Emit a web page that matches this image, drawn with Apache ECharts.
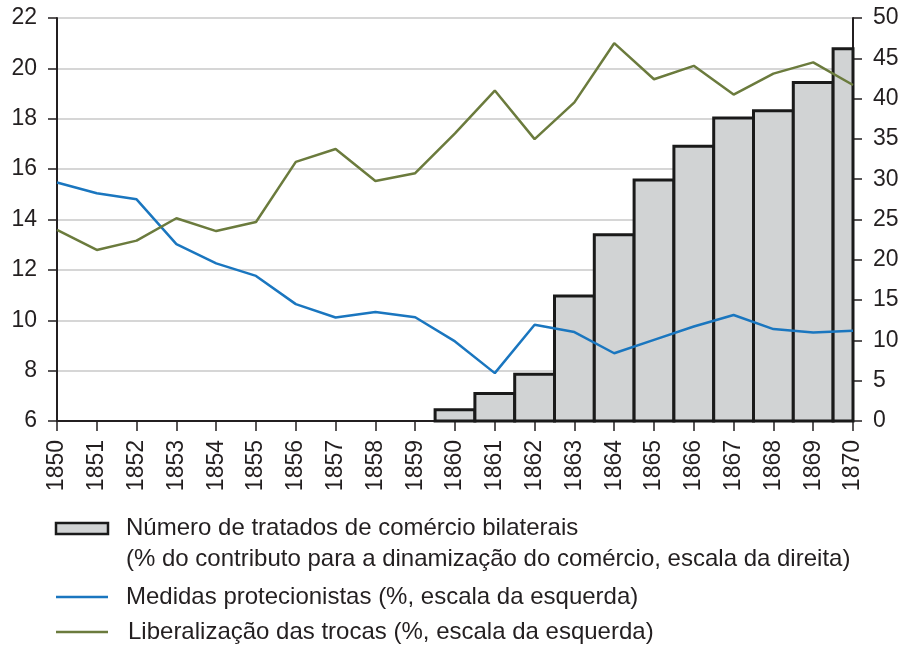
<!DOCTYPE html>
<html>
<head>
<meta charset="utf-8">
<script src="https://cdn.jsdelivr.net/npm/echarts@6/dist/echarts.min.js"></script>
<style>html,body{margin:0;padding:0;background:#fff;}#c{width:904px;height:648px;}</style>
</head>
<body>
<div id="c"></div>
<script>
const years = ['1850','1851','1852','1853','1854','1855','1856','1857','1858','1859','1860','1861','1862','1863','1864','1865','1866','1867','1868','1869','1870'];
const tratados = [null,null,null,null,null,null,null,null,null,null,1.4,3.4,5.8,15.5,23.1,29.9,34.1,37.6,38.5,42.0,46.2];
const protecionistas = [15.47,15.04,14.8,13.02,12.26,11.76,10.64,10.11,10.33,10.12,9.16,7.9,9.82,9.53,8.69,9.22,9.75,10.21,9.65,9.51,9.58];
const liberalizacao = [13.59,12.79,13.16,14.05,13.54,13.9,16.29,16.8,15.53,15.84,17.42,19.12,17.19,18.65,21.0,19.57,20.1,18.96,19.79,20.24,19.34];
const leftTicks = {min: 6, max: 22, interval: 2};
const rightTicks = {min: 0, max: 50, interval: 5};
const legendLabels = [
  'Número de tratados de comércio bilaterais',
  '(% do contributo para a dinamização do comércio, escala da direita)',
  'Medidas protecionistas (%, escala da esquerda)',
  'Liberalização das trocas (%, escala da esquerda)'
];

const FONT = '"Liberation Sans", Arial, sans-serif';
const TXT = '#231f20';
const BLUE = '#1a76bf';
const GREEN = '#6b7b3d';
const BARFILL = '#d1d3d4';
const BAREDGE = '#1a1a1a';

const barData = [];
tratados.forEach((v, i) => { if (v !== null) barData.push([years[i], v]); });

const chart = echarts.init(document.getElementById('c'), null, {renderer: 'canvas'});
const axisCommon = {
  axisLine: {show: true, lineStyle: {color: TXT, width: 2}},
  axisTick: {show: true, inside: false, length: 9, lineStyle: {color: TXT, width: 1.5}},
  axisLabel: {color: TXT, fontSize: 23, fontFamily: FONT, margin: 20}
};
chart.setOption({
  animation: false,
  backgroundColor: '#fff',
  textStyle: {fontFamily: FONT},
  grid: {left: 57, right: 51, top: 18, bottom: 227},
  xAxis: {
    type: 'category', data: years, boundaryGap: false,
    axisLine: axisCommon.axisLine,
    axisTick: {show: true, length: 10, lineStyle: {color: TXT, width: 1.5}, interval: 0},
    axisLabel: {color: TXT, fontSize: 23, fontFamily: FONT, rotate: 90, margin: 19, interval: 0},
    splitLine: {show: false}
  },
  yAxis: [
    Object.assign({
      type: 'value', position: 'left', min: leftTicks.min, max: leftTicks.max, interval: leftTicks.interval,
      splitLine: {show: true, lineStyle: {color: '#c8c8c8', width: 1.5}}
    }, axisCommon),
    Object.assign({
      type: 'value', position: 'right', min: rightTicks.min, max: rightTicks.max, interval: rightTicks.interval,
      splitLine: {show: false}
    }, axisCommon)
  ],
  series: [
    {
      name: legendLabels[0], type: 'custom', yAxisIndex: 1, data: barData,
      encode: {x: 0, y: 1}, z: 2,
      renderItem: function (params, api) {
        const top = api.coord([api.value(0), api.value(1)]);
        const base = api.coord([api.value(0), 0]);
        const w = api.size([1, 0])[0];
        const cs = params.coordSys;
        let x0 = top[0] - w / 2, x1 = top[0] + w / 2;
        x0 = Math.max(x0, cs.x);
        x1 = Math.min(x1, cs.x + cs.width);
        return {
          type: 'rect',
          shape: {x: x0, y: top[1], width: x1 - x0, height: base[1] - top[1]},
          style: {fill: BARFILL, stroke: BAREDGE, lineWidth: 3}
        };
      }
    },
    {
      name: legendLabels[2], type: 'line', yAxisIndex: 0, data: protecionistas, symbol: 'none',
      lineStyle: {color: BLUE, width: 2.5}, z: 3
    },
    {
      name: legendLabels[3], type: 'line', yAxisIndex: 0, data: liberalizacao, symbol: 'none',
      lineStyle: {color: GREEN, width: 2.5}, z: 3
    }
  ],
  graphic: [
    {type: 'rect', shape: {x: 56, y: 523, width: 52, height: 11}, style: {fill: BARFILL, stroke: BAREDGE, lineWidth: 2.5}},
    {type: 'text', x: 126, y: 528, style: {text: legendLabels[0], font: '24px ' + FONT, fill: TXT, textVerticalAlign: 'middle'}},
    {type: 'text', x: 126, y: 559, style: {text: legendLabels[1], font: '24px ' + FONT, fill: TXT, textVerticalAlign: 'middle'}},
    {type: 'line', shape: {x1: 56, y1: 597, x2: 108, y2: 597}, style: {stroke: BLUE, lineWidth: 2.5}},
    {type: 'text', x: 126, y: 597, style: {text: legendLabels[2], font: '24px ' + FONT, fill: TXT, textVerticalAlign: 'middle'}},
    {type: 'line', shape: {x1: 56, y1: 632, x2: 108, y2: 632}, style: {stroke: GREEN, lineWidth: 2.5}},
    {type: 'text', x: 128, y: 632, style: {text: legendLabels[3], font: '24px ' + FONT, fill: TXT, textVerticalAlign: 'middle'}}
  ]
});
</script>
</body>
</html>
